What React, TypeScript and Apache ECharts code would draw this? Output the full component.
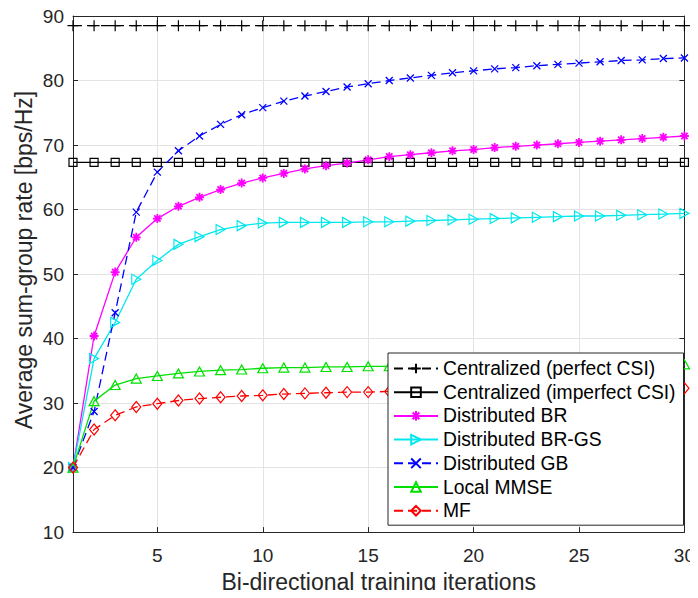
import React, { useEffect, useRef } from "react";
import * as echarts from "echarts";

const iterations = Array.from({ length: 30 }, (_, i) => i + 1);

const perfectCSI = [88.5,88.5,88.5,88.5,88.5,88.5,88.5,88.5,88.5,88.5,88.5,88.5,88.5,88.5,88.5,88.5,88.5,88.5,88.5,88.5,88.5,88.5,88.5,88.5,88.5,88.5,88.5,88.5,88.5,88.5];
const imperfectCSI = [67.3,67.3,67.3,67.3,67.3,67.3,67.3,67.3,67.3,67.3,67.3,67.3,67.3,67.3,67.3,67.3,67.3,67.3,67.3,67.3,67.3,67.3,67.3,67.3,67.3,67.3,67.3,67.3,67.3,67.3];
const distBR = [20,40.4,50.3,55.7,58.6,60.5,61.9,63.1,64.1,64.9,65.6,66.3,66.8,67.2,67.7,68.2,68.5,68.8,69.1,69.3,69.6,69.8,70.0,70.2,70.4,70.6,70.8,71.0,71.2,71.4];
const distBRGS = [20,36.9,42.5,49.2,52.1,54.6,55.8,56.9,57.5,57.9,58.0,58.0,58.0,58.0,58.1,58.1,58.2,58.3,58.4,58.5,58.6,58.7,58.8,58.9,59.0,59.0,59.1,59.2,59.3,59.4];
const distGB = [20,28.7,44.0,59.6,65.8,69.1,71.4,73.2,74.7,75.8,76.8,77.6,78.3,79.0,79.5,80.0,80.4,80.8,81.2,81.5,81.8,82.0,82.3,82.5,82.7,82.9,83.1,83.2,83.4,83.5];
const localMMSE = [20,30.3,32.8,33.8,34.2,34.6,34.9,35.1,35.2,35.4,35.5,35.5,35.6,35.6,35.7,35.7,35.7,35.8,35.8,35.8,35.8,35.9,35.9,35.9,35.9,35.9,36.0,36.0,36.0,36.0];
const mf = [20,25.9,28.1,29.4,29.9,30.4,30.7,30.9,31.1,31.2,31.4,31.5,31.6,31.7,31.7,31.8,31.8,31.9,31.9,31.9,32.0,32.0,32.0,32.1,32.1,32.1,32.2,32.2,32.2,32.3];

const xTicks = [5, 10, 15, 20, 25, 30];
const seriesNames = [
  "Centralized (perfect CSI)",
  "Centralized (imperfect CSI)",
  "Distributed BR",
  "Distributed BR-GS",
  "Distributed GB",
  "Local MMSE",
  "MF",
];
const xTitle = "Bi-directional training iterations";
const yTitle = "Average sum-group rate [bps/Hz]";

const PLUS = "path://M5,0L5,10M0,5L10,5";
const SQUARE = "path://M0,0L10,0L10,10L0,10Z";
const ASTER = "path://M5,0L5,10M0,5L10,5M1.5,1.5L8.5,8.5M8.5,1.5L1.5,8.5";
const TRI_RIGHT = "path://M0,0L10,5L0,10Z";
const CROSS = "path://M0,0L10,10M10,0L0,10";
const TRI_UP = "path://M5,0L10,9L0,9Z";
const DIAMOND = "path://M5,0L10,6.5L5,13L0,6.5Z";

const FONT = "Liberation Sans, Arial, sans-serif";
const TXT = "#262626";

function mk(name: string, values: number[], color: string, symbol: string, size: number | number[], dashed: boolean, bw = 1.2) {
  return {
    name,
    type: "line",
    data: iterations.map((x, i) => [x, values[i]]),
    symbol,
    symbolSize: size,
    color,
    lineStyle: { color, width: 1.3, type: dashed ? [9, 5] : "solid" },
    itemStyle: { color: "transparent", borderColor: color, borderWidth: bw },
    z: 3,
  };
}

export default function App() {
  const ref = useRef<HTMLDivElement>(null);
  useEffect(() => {
    const chart = echarts.init(ref.current!, undefined, { renderer: "svg" });
    const tickStyle = { show: true, inside: true, length: 5, lineStyle: { color: TXT, width: 1 } };
    chart.setOption({
      animation: false,
      backgroundColor: "#fff",
      grid: { left: 73, right: 11, top: 16, bottom: 65 },
      graphic: [
        {
          type: "text",
          x: 24,
          y: 260,
          rotation: Math.PI / 2,
          style: {
            text: yTitle,
            fontFamily: FONT,
            fontSize: 23,
            fill: TXT,
            align: "center",
            verticalAlign: "middle",
          },
        },
      ],
      legend: {
        orient: "vertical",
        left: 388,
        top: 353,
        data: seriesNames,
        itemWidth: 44,
        itemHeight: 12,
        itemGap: 4.7,
        padding: [6, 8, 5, 5],
        borderColor: TXT,
        borderWidth: 1,
        backgroundColor: "#fff",
        textStyle: { fontFamily: FONT, fontSize: 19.3, color: "#000" },
      },
      xAxis: [
        {
          type: "value",
          min: 1,
          max: 30,
          name: xTitle,
          nameLocation: "middle",
          nameGap: 36,
          nameTextStyle: { fontFamily: FONT, fontSize: 23, color: TXT },
          axisLine: { show: true, lineStyle: { color: TXT, width: 1 } },
          axisTick: { ...tickStyle, customValues: xTicks },
          axisLabel: { customValues: xTicks, fontFamily: FONT, fontSize: 19, color: TXT, margin: 14 },
          splitLine: { show: true, lineStyle: { color: "#e3e3e3", width: 1 } },
        },
        {
          type: "value",
          position: "top",
          min: 1,
          max: 30,
          axisLine: { show: true, lineStyle: { color: TXT, width: 1 } },
          axisTick: { ...tickStyle, customValues: xTicks },
          axisLabel: { show: false },
          splitLine: { show: false },
        },
      ],
      yAxis: [
        {
          type: "value",
          min: 10,
          max: 90,
          interval: 10,
          axisLine: { show: true, lineStyle: { color: TXT, width: 1 } },
          axisTick: tickStyle,
          axisLabel: { fontFamily: FONT, fontSize: 19, color: TXT, margin: 9 },
          splitLine: { show: true, lineStyle: { color: "#e3e3e3", width: 1 } },
        },
        {
          type: "value",
          position: "right",
          min: 10,
          max: 90,
          interval: 10,
          axisLine: { show: true, lineStyle: { color: TXT, width: 1 } },
          axisTick: tickStyle,
          axisLabel: { show: false },
          splitLine: { show: false },
        },
      ],
      series: [
        mk(seriesNames[0], perfectCSI, "#000000", PLUS, 11, true),
        mk(seriesNames[1], imperfectCSI, "#000000", SQUARE, 8, false),
        mk(seriesNames[2], distBR, "#ff00ff", ASTER, 9, false, 1.8),
        mk(seriesNames[3], distBRGS, "#00e8ee", TRI_RIGHT, [9, 10], false),
        mk(seriesNames[4], distGB, "#0000ff", CROSS, 7, true, 1.3),
        mk(seriesNames[5], localMMSE, "#00e000", TRI_UP, [10, 9], false),
        mk(seriesNames[6], mf, "#ff0000", DIAMOND, [9, 11], true),
      ],
    });
    return () => chart.dispose();
  }, []);
  return <div ref={ref} style={{ width: 698, height: 598, margin: -8 }} />;
}
